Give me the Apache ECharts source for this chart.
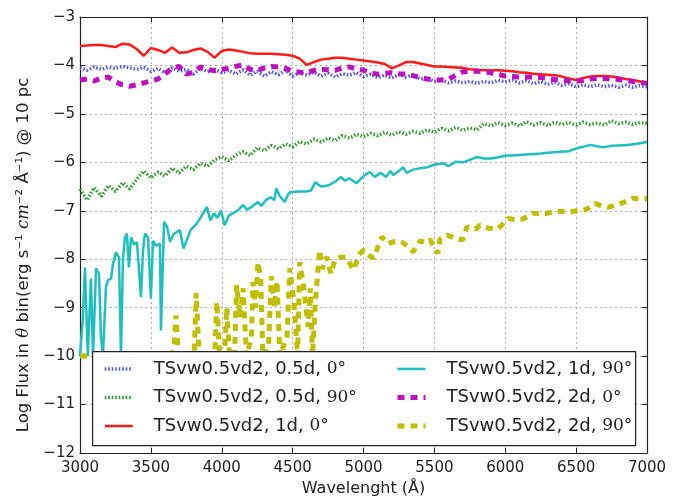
<!DOCTYPE html>
<html>
<head>
<meta charset="utf-8">
<script src="https://cdn.jsdelivr.net/npm/echarts@6/dist/echarts.min.js"></script>
<style>
html, body { margin: 0; padding: 0; background: #fff; }
#chart { width: 680px; height: 502px; }
</style>
</head>
<body>
<div id="chart"></div>
<script>
/** data */
var names = [
	'TSvw0.5vd2, 0.5d, 0°',
	'TSvw0.5vd2, 0.5d, 90°',
	'TSvw0.5vd2, 1d, 0°',
	'TSvw0.5vd2, 1d, 90°',
	'TSvw0.5vd2, 2d, 0°',
	'TSvw0.5vd2, 2d, 90°'
]

// common wavelength grid (Angstrom)
var wave = [3000, 3050, 3100, 3150, 3200, 3250, 3300, 3350, 3400, 3450,
	3500, 3550, 3600, 3650, 3700, 3750, 3800, 3850, 3900, 3950,
	4000, 4050, 4100, 4150, 4200, 4250, 4300, 4350, 4400, 4450,
	4500, 4550, 4600, 4650, 4700, 4750, 4800, 4850, 4900, 4950,
	5000, 5050, 5100, 5150, 5200, 5250, 5300, 5350, 5400, 5450,
	5500, 5550, 5600, 5650, 5700, 5750, 5800, 5850, 5900, 5950,
	6000, 6050, 6100, 6150, 6200, 6250, 6300, 6350, 6400, 6450,
	6500, 6550, 6600, 6650, 6700, 6750, 6800, 6850, 6900, 6950,
	7000]

var flux05d0 = [-4.05, -4.10, -4.03, -4.08, -4.04, -4.06, -4.02, -4.05, -4.08, -4.04,
	-4.12, -4.06, -4.15, -4.05, -4.12, -4.08, -4.18, -4.06, -4.13, -4.08,
	-4.15, -4.10, -4.18, -4.09, -4.20, -4.12, -4.22, -4.13, -4.19, -4.10,
	-4.22, -4.15, -4.20, -4.14, -4.22, -4.16, -4.24, -4.17, -4.20, -4.15,
	-4.23, -4.18, -4.25, -4.20, -4.26, -4.19, -4.24, -4.20, -4.28, -4.26,
	-4.33, -4.30, -4.36, -4.32, -4.36, -4.33, -4.37, -4.33, -4.36, -4.31,
	-4.34, -4.30, -4.36, -4.31, -4.38, -4.33, -4.39, -4.35, -4.41, -4.38,
	-4.44, -4.40, -4.44, -4.40, -4.44, -4.41, -4.45, -4.41, -4.45, -4.42,
	-4.44]

var flux05d90 = [-6.55, -6.78, -6.52, -6.70, -6.48, -6.60, -6.42, -6.55, -6.35, -6.18,
	-6.32, -6.20, -6.28, -6.12, -6.22, -6.08, -6.15, -6.02, -6.08, -5.95,
	-5.88, -5.97, -5.85, -5.78, -5.86, -5.70, -5.76, -5.65, -5.72, -5.62,
	-5.68, -5.57, -5.62, -5.52, -5.58, -5.50, -5.55, -5.45, -5.50, -5.42,
	-5.47, -5.40, -5.45, -5.38, -5.44, -5.37, -5.42, -5.36, -5.40, -5.33,
	-5.38, -5.30, -5.35, -5.28, -5.34, -5.29, -5.33, -5.20, -5.25, -5.18,
	-5.24, -5.19, -5.25, -5.16, -5.23, -5.18, -5.24, -5.17, -5.22, -5.18,
	-5.23, -5.17, -5.22, -5.19, -5.23, -5.14, -5.20, -5.17, -5.22, -5.18,
	-5.20]

var flux1d0 = [-3.60, -3.59, -3.58, -3.58, -3.60, -3.62, -3.55, -3.57, -3.66, -3.80,
	-3.64, -3.68, -3.74, -3.63, -3.74, -3.73, -3.68, -3.65, -3.72, -3.84,
	-3.70, -3.67, -3.69, -3.72, -3.75, -3.76, -3.76, -3.76, -3.77, -3.78,
	-3.80, -3.86, -3.99, -3.93, -3.88, -3.86, -3.84, -3.84, -3.86, -3.88,
	-3.90, -3.92, -3.94, -3.97, -4.06, -4.00, -3.93, -3.93, -3.96, -3.99,
	-4.02, -4.02, -4.03, -4.04, -4.05, -4.08, -4.09, -4.10, -4.10, -4.10,
	-4.11, -4.12, -4.14, -4.15, -4.17, -4.18, -4.19, -4.20, -4.23, -4.27,
	-4.30, -4.26, -4.23, -4.22, -4.22, -4.23, -4.25, -4.28, -4.30, -4.33,
	-4.36]

var flux2d0 = [-4.30, -4.28, -4.32, -4.26, -4.24, -4.34, -4.40, -4.43, -4.40, -4.36,
	-4.32, -4.28, -4.18, -4.05, -4.02, -4.18, -4.14, -4.03, -4.08, -4.11,
	-4.08, -4.06, -4.02, -3.99, -4.08, -4.11, -4.05, -4.02, -4.03, -4.06,
	-4.12, -4.14, -4.15, -4.10, -4.08, -4.09, -4.10, -4.05, -4.03, -4.07,
	-4.10, -4.15, -4.18, -4.16, -4.15, -4.17, -4.18, -4.21, -4.25, -4.28,
	-4.30, -4.30, -4.29, -4.20, -4.13, -4.12, -4.12, -4.13, -4.15, -4.18,
	-4.22, -4.23, -4.24, -4.24, -4.24, -4.25, -4.27, -4.29, -4.30, -4.32,
	-4.32, -4.31, -4.28, -4.26, -4.27, -4.28, -4.29, -4.31, -4.33, -4.35,
	-4.37]

// 1d, 90 deg: own grid, noisy in the blue
var wave1d90 = [3000, 3020, 3035, 3055, 3077, 3092, 3113, 3134, 3148, 3162,
	3183, 3198, 3219, 3233, 3254, 3275, 3289, 3303, 3317, 3331,
	3345, 3360, 3381, 3402, 3430, 3445, 3458, 3480, 3500, 3515,
	3536, 3564, 3571, 3593, 3614, 3635, 3660, 3705, 3730, 3780,
	3825, 3870, 3895, 3920, 3945, 3970, 3995, 4020, 4050, 4080,
	4115, 4150, 4180, 4210, 4255, 4280, 4310, 4345, 4370, 4385,
	4410, 4445, 4470, 4490, 4550, 4600, 4630, 4660, 4700, 4750,
	4800, 4840, 4870, 4900, 4950, 5010, 5045, 5080, 5120, 5160,
	5190, 5210, 5250, 5280, 5305, 5350, 5400, 5450, 5500, 5565,
	5600, 5650, 5700, 5750, 5800, 5850, 5900, 5940, 6010, 6050,
	6105, 6150, 6200, 6250, 6300, 6385, 6450, 6505, 6550, 6600,
	6650, 6690, 6750, 6800, 6860, 6920, 6960, 7000]
var flux1d90 = [-10.0, -9.20, -8.17, -10.0, -8.40, -10.0, -8.19, -8.30, -9.61, -10.0,
	-8.57, -8.43, -8.40, -8.09, -7.86, -7.96, -10.0, -8.00, -7.55, -7.47,
	-8.17, -7.55, -7.69, -7.65, -8.78, -7.80, -7.47, -7.55, -8.81, -7.62,
	-7.72, -7.68, -9.47, -7.23, -7.33, -7.64, -7.48, -7.40, -7.78, -7.40,
	-7.26, -7.05, -6.92, -7.20, -7.05, -7.15, -6.99, -7.30, -7.10, -7.05,
	-6.99, -6.88, -6.98, -6.92, -6.82, -6.90, -6.78, -6.72, -6.78, -6.54,
	-6.70, -6.82, -6.65, -6.61, -6.60, -6.60, -6.58, -6.41, -6.50, -6.48,
	-6.40, -6.30, -6.38, -6.33, -6.43, -6.26, -6.20, -6.30, -6.22, -6.30,
	-6.18, -6.26, -6.18, -6.10, -6.22, -6.15, -6.12, -6.10, -6.05, -6.02,
	-6.08, -5.99, -6.00, -5.95, -5.89, -5.92, -5.92, -5.90, -5.86, -5.86,
	-5.85, -5.84, -5.83, -5.82, -5.80, -5.78, -5.77, -5.71, -5.68, -5.64,
	-5.67, -5.69, -5.66, -5.65, -5.64, -5.62, -5.60, -5.58]

// 2d, 90 deg: floor at -10 below ~3650
var wave2d90 = [3000, 3650, 3665, 3677, 3695, 3805, 3820, 3840, 3950, 3965,
	3985, 4020, 4035, 4055, 4090, 4105, 4130, 4150, 4175, 4210,
	4220, 4240, 4255, 4275, 4290, 4330, 4350, 4370, 4390, 4410,
	4460, 4480, 4510, 4535, 4550, 4575, 4610, 4625, 4640, 4660,
	4690, 4710, 4740, 4770, 4800, 4835, 4880, 4930, 4970, 5000,
	5040, 5070, 5130, 5170, 5210, 5250, 5280, 5350, 5400, 5440,
	5470, 5525, 5540, 5590, 5650, 5700, 5730, 5790, 5820, 5880,
	5950, 6020, 6070, 6125, 6195, 6280, 6365, 6460, 6540, 6580,
	6635, 6680, 6725, 6810, 6860, 6900, 6950, 7000]
var flux2d90 = [-10.0, -10.0, -9.80, -9.16, -10.0, -10.0, -8.70, -10.0, -10.0, -8.88,
	-10.0, -10.0, -9.00, -10.0, -10.0, -8.54, -9.20, -8.60, -10.0, -9.60,
	-8.47, -9.00, -8.06, -8.40, -10.0, -9.80, -8.35, -9.00, -8.45, -10.0,
	-9.60, -8.19, -8.90, -10.0, -8.06, -8.50, -9.40, -8.60, -10.0, -8.90,
	-7.81, -8.20, -7.95, -8.30, -8.00, -7.96, -7.96, -8.22, -7.90, -7.81,
	-7.92, -7.98, -7.54, -7.68, -7.64, -7.62, -7.66, -7.85, -7.62, -7.66,
	-7.60, -7.88, -7.58, -7.50, -7.58, -7.60, -7.33, -7.38, -7.30, -7.36,
	-7.37, -7.16, -7.18, -7.17, -7.05, -7.06, -7.01, -7.02, -6.99, -6.96,
	-6.85, -6.90, -6.93, -6.85, -6.80, -6.74, -6.76, -6.75]

var colors = ['#5050ff', '#2a9a2a', '#ff1a1a', '#1fbfbf', '#bf10bf', '#bfbf00']
var widths = [3.5, 3.5, 2.5, 2.5, 5, 5]
var dashes = [[1.5, 2], [1.5, 2], 'solid', 'solid', [7, 6], [7, 6]]

/** helpers */
var pairs = function(xs, ys) {
	var out = []
	for (var i = 0; i < xs.length; i++) {
		out.push([xs[i], ys[i]])
	}
	return out
}

var makeSeries = function(idx, xs, ys) {
	return {
		name: names[idx],
		type: 'line',
		z: 3,
		data: pairs(xs, ys),
		showSymbol: false,
		symbol: 'none',
		clip: true,
		lineStyle: { color: colors[idx], width: widths[idx], type: dashes[idx], cap: 'butt' },
		itemStyle: { color: colors[idx] }
	}
}

var minus = function(v) {
	return v < 0 ? '\u2212' + Math.abs(v) : String(v)
}

var font = 'DejaVu Sans'

// one legend column (matplotlib ncol=2 look)
var legendColumn = function(left, idxs) {
	var items = idxs.map(function(i) {
		return {
			name: names[i],
			lineStyle: { color: colors[i], width: widths[i], type: dashes[i], cap: 'butt' }
		}
	})
	return {
		orient: 'vertical',
		left: left, top: 359,
		z: 20,
		padding: 0,
		itemGap: 8.5,
		itemWidth: 28,
		itemHeight: 14,
		itemStyle: { opacity: 0 },
		textStyle: {
			fontFamily: font, fontSize: 18, color: '#222',
			lineHeight: 20, padding: [0, 0, 0, 16],
			rich: {
				t: { fontFamily: font, fontSize: 18, color: '#222' },
				m: { fontFamily: 'DejaVu Serif', fontSize: 17, color: '#222' }
			}
		},
		formatter: function(n) {
			var p = n.lastIndexOf(' ')
			return '{t|' + n.slice(0, p + 1) + '}{m|' + n.slice(p + 1) + '}'
		},
		data: items
	}
}

/** option */
var option = {
	animation: false,
	backgroundColor: '#fff',
	grid: { left: 80, right: 33, top: 17, bottom: 49 },
	xAxis: [{
		type: 'value',
		min: 3000, max: 7000, interval: 500,
		name: 'Wavelenght (Å)',
		nameLocation: 'middle',
		nameGap: 28,
		nameTextStyle: { fontFamily: font, fontSize: 16, color: '#222' },
		axisLine: { lineStyle: { color: '#222', width: 1.2 } },
		axisTick: { inside: true, length: 5, lineStyle: { color: '#222' } },
		axisLabel: { fontFamily: font, fontSize: 15, color: '#222', margin: 8,
			formatter: function(v) { return String(v) } },
		splitLine: { show: true, lineStyle: { color: '#b0b0b0', type: [2, 3], width: 1 } }
	}, {
		type: 'value', position: 'top',
		min: 3000, max: 7000, interval: 500,
		axisLine: { lineStyle: { color: '#222', width: 1.2 } },
		axisTick: { inside: true, length: 5, lineStyle: { color: '#222' } },
		axisLabel: { show: false },
		splitLine: { show: false }
	}],
	yAxis: [{
		type: 'value',
		min: -12, max: -3, interval: 1,
		name: 'Log Flux in {i|θ} bin(erg s⁻¹ {i|cm}⁻² Å⁻¹) @ 10 pc',
		nameLocation: 'middle',
		nameGap: 43,
		nameTextStyle: {
			fontFamily: font, fontSize: 16.5, color: '#222',
			padding: [0, 40, 0, 0],
			rich: { i: { fontFamily: 'DejaVu Serif', fontStyle: 'italic', fontSize: 16.5, color: '#222' } }
		},
		axisLine: { lineStyle: { color: '#222', width: 1.2 } },
		axisTick: { inside: true, length: 5, lineStyle: { color: '#222' } },
		axisLabel: { fontFamily: font, fontSize: 15, color: '#222', margin: 5, formatter: minus },
		splitLine: { show: true, lineStyle: { color: '#b0b0b0', type: [2, 3], width: 1 } }
	}, {
		type: 'value', position: 'right',
		min: -12, max: -3, interval: 1,
		axisLine: { lineStyle: { color: '#222', width: 1.2 } },
		axisTick: { inside: true, length: 5, lineStyle: { color: '#222' } },
		axisLabel: { show: false },
		splitLine: { show: false }
	}],
	// legend frame, above the lines and below the legend items
	graphic: [{
		type: 'rect',
		left: 92, top: 351,
		z: 10,
		shape: { width: 543, height: 94 },
		style: { fill: '#fff', stroke: '#222', lineWidth: 1.2 }
	}],
	legend: [
		legendColumn(103, [0, 1, 2]),
		legendColumn(395, [3, 4, 5])
	],
	series: [
		makeSeries(0, wave, flux05d0),
		makeSeries(1, wave, flux05d90),
		makeSeries(2, wave, flux1d0),
		makeSeries(3, wave1d90, flux1d90),
		makeSeries(4, wave, flux2d0),
		makeSeries(5, wave2d90, flux2d90)
	]
}

var myChart = echarts.init(document.getElementById('chart'))
myChart.setOption(option)
</script>
</body>
</html>
